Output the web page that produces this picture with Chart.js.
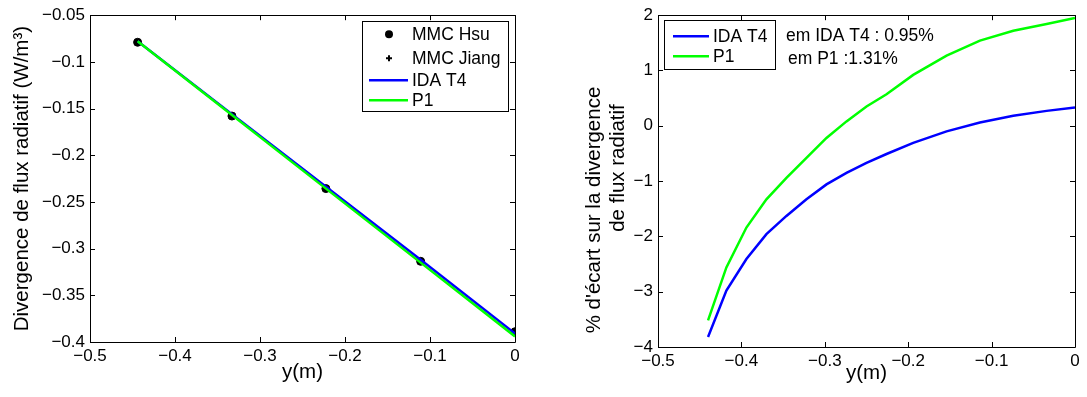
<!DOCTYPE html>
<html><head><meta charset="utf-8">
<script src="https://cdn.jsdelivr.net/npm/chart.js@4"></script>
<style>
html,body{margin:0;padding:0;background:#fff;}
#wrap{position:relative;width:1087px;height:397px;}
.c{position:absolute;top:0;height:397px;}
</style></head><body>
<div id="wrap">
<div class="c" style="left:0;width:543px"><canvas id="c1"></canvas></div>
<div class="c" style="left:543px;width:544px"><canvas id="c2"></canvas></div>
</div>
<script>
// ---- Left chart data ----
const mmcX      = [-0.444, -0.333, -0.2225, -0.111, 0];
const mmcHsuY   = [-0.079, -0.158, -0.2357, -0.3136, -0.389];
const mmcJiangY = [-0.079, -0.158, -0.2357, -0.3136, -0.389];
const lineX     = [-0.444, -0.333, -0.222, -0.111, 0];
const idaT4Y    = [-0.078, -0.156, -0.234, -0.312, -0.391];
const p1Y       = [-0.078, -0.157, -0.236, -0.315, -0.394];
// ---- Right chart data ----
const errX   = [-0.44, -0.418, -0.394, -0.37, -0.346, -0.322, -0.298, -0.274, -0.25, -0.226, -0.194, -0.154, -0.114, -0.074, -0.034, 0];
const errIDA = [-3.82, -2.98, -2.41, -1.96, -1.63, -1.33, -1.06, -0.85, -0.67, -0.51, -0.31, -0.10, 0.06, 0.18, 0.27, 0.33];
const errP1  = [-3.52, -2.56, -1.84, -1.33, -0.94, -0.58, -0.22, 0.08, 0.35, 0.57, 0.92, 1.27, 1.54, 1.72, 1.84, 1.95];
const annotations = ["em IDA T4 : 0.95%", "em P1 :1.31%"];
const rightYTitle = ["% d'\u00e9cart sur la divergence", "de flux radiatif"];

const FONT = "'Liberation Sans', Arial, Helvetica, sans-serif";
const pts = (xs, ys) => xs.map((x, i) => ({x, y: ys[i]}));
const fmt = (d) => (v) => { let s = Number(v.toFixed(d)).toString(); return s.replace('-', '\u2212'); };

const boxPlugin = {
  id: 'mbox',
  afterDatasetsDraw(chart) {
    const {ctx, chartArea: a, scales} = chart;
    ctx.save();
    ctx.strokeStyle = '#000'; ctx.lineWidth = 1;
    ctx.beginPath();
    ctx.rect(Math.round(a.left) + 0.5, Math.round(a.top) + 0.5, Math.round(a.right - a.left), Math.round(a.bottom - a.top));
    ctx.stroke();
    const L = 5;
    scales.x.ticks.forEach(t => {
      const px = Math.round(scales.x.getPixelForValue(t.value)) + 0.5;
      ctx.beginPath();
      ctx.moveTo(px, a.bottom); ctx.lineTo(px, a.bottom - L);
      ctx.moveTo(px, a.top); ctx.lineTo(px, a.top + L);
      ctx.stroke();
    });
    scales.y.ticks.forEach(t => {
      const py = Math.round(scales.y.getPixelForValue(t.value)) + 0.5;
      ctx.beginPath();
      ctx.moveTo(a.left, py); ctx.lineTo(a.left + L, py);
      ctx.moveTo(a.right, py); ctx.lineTo(a.right - L, py);
      ctx.stroke();
    });
    ctx.restore();
  },
  afterDraw(chart) {
    const o = chart.options.plugins.mlegend;
    if (!o) return;
    const {ctx, chartArea: a} = chart;
    ctx.save();
    const bx = o.fromRight ? a.right - o.dx - o.w : a.left + o.dx;
    const by = a.top + o.dy;
    ctx.fillStyle = '#fff';
    ctx.fillRect(bx, by, o.w, o.h);
    ctx.strokeStyle = '#000'; ctx.lineWidth = 1;
    ctx.strokeRect(Math.round(bx) + 0.5, Math.round(by) + 0.5, o.w, o.h);
    ctx.font = '17.5px ' + FONT;
    ctx.textBaseline = 'middle';
    ctx.fillStyle = '#000';
    chart.data.datasets.forEach((ds, i) => {
      const y = by + o.rows[i];
      if (ds.showLine) {
        ctx.strokeStyle = ds.borderColor; ctx.lineWidth = 2.5;
        ctx.beginPath(); ctx.moveTo(bx + o.l0, y); ctx.lineTo(bx + o.l1, y); ctx.stroke();
      } else if (ds.pointStyle === 'circle') {
        ctx.fillStyle = '#000';
        ctx.beginPath(); ctx.arc(bx + o.mx, y, 4, 0, Math.PI * 2); ctx.fill();
      } else {
        ctx.strokeStyle = '#000'; ctx.lineWidth = 2;
        ctx.beginPath();
        ctx.moveTo(bx + o.mx - 3, y); ctx.lineTo(bx + o.mx + 3, y);
        ctx.moveTo(bx + o.mx, y - 3); ctx.lineTo(bx + o.mx, y + 3);
        ctx.stroke();
      }
      ctx.fillStyle = '#000';
      ctx.fillText(ds.label, bx + o.tx, y + 1);
    });
    if (o.notes) {
      ctx.font = '17.5px ' + FONT;
      o.notes.forEach((n, i) => ctx.fillText(n, a.left + o.notesX[i], a.top + o.notesY[i]));
    }
    if (o.yTitle) {
      ctx.font = '20.5px ' + FONT;
      ctx.textAlign = 'center';
      o.yTitle.forEach((t, i) => {
        ctx.save();
        ctx.translate(o.yTitleX[i], o.yTitleY[i]);
        ctx.rotate(-Math.PI / 2);
        ctx.fillText(t, 0, 0);
        ctx.restore();
      });
    }
    ctx.restore();
  }
};

function axisCommon(title, min, max, step, dec, size, isY, titlePad) {
  return {
    type: 'linear', min, max,
    grid: {display: false, drawTicks: false},
    border: {display: false},
    ticks: {stepSize: step, callback: fmt(dec), color: '#000', font: {family: FONT, size: 17}, padding: isY ? 5 : 4, maxRotation: 0, autoSkip: false},
    title: {display: !!title, text: title || '', color: '#000', font: {family: FONT, size: 20.5}, padding: titlePad},
    afterFit(s) { if (isY) s.width = size; else s.height = size; }
  };
}

new Chart(document.getElementById('c1'), {
  type: 'scatter',
  data: {datasets: [
    {label: 'MMC Hsu', data: pts(mmcX, mmcHsuY), pointStyle: 'circle', pointRadius: 4, backgroundColor: '#000', borderColor: '#000', showLine: false, order: 3},
    {label: 'MMC Jiang', data: pts(mmcX, mmcJiangY), pointStyle: 'cross', pointRadius: 3, borderWidth: 2, backgroundColor: '#000', borderColor: '#000', showLine: false, order: 4},
    {label: 'IDA T4', data: pts(lineX, idaT4Y), showLine: true, borderColor: '#0000ff', borderWidth: 2.5, pointRadius: 0, order: 2},
    {label: 'P1', data: pts(lineX, p1Y), showLine: true, borderColor: '#00ff00', borderWidth: 2.5, pointRadius: 0, order: 1}
  ]},
  options: {
    responsive: true, maintainAspectRatio: false, animation: false,
    layout: {padding: {top: 14, right: 28, left: 0, bottom: 0}},
    scales: {
      x: axisCommon('y(m)', -0.5, 0, 0.1, 1, 55, false, {top: 0, bottom: 12}),
      y: axisCommon('Divergence de flux radiatif (W/m\u00b3)', -0.4, -0.05, 0.05, 2, 90, true, {top: 10, bottom: 0})
    },
    plugins: {
      legend: {display: false}, tooltip: {enabled: false},
      mlegend: {fromRight: true, dx: 7, dy: 6, w: 146, h: 90, rows: [13, 37, 59, 79], mx: 27, l0: 7, l1: 46, tx: 50}
    }
  },
  plugins: [boxPlugin]
});

new Chart(document.getElementById('c2'), {
  type: 'scatter',
  data: {datasets: [
    {label: 'IDA T4', data: pts(errX, errIDA), showLine: true, borderColor: '#0000ff', borderWidth: 2.5, pointRadius: 0, order: 2},
    {label: 'P1', data: pts(errX, errP1), showLine: true, borderColor: '#00ff00', borderWidth: 2.5, pointRadius: 0, order: 1}
  ]},
  options: {
    responsive: true, maintainAspectRatio: false, animation: false,
    layout: {padding: {top: 14, right: 12, left: 0, bottom: 0}},
    scales: {
      x: axisCommon('y(m)', -0.5, 0, 0.1, 1, 50, false, {top: 0, bottom: 11}),
      y: axisCommon(null, -4, 2, 1, 0, 115, true, {top: 0, bottom: 0})
    },
    plugins: {
      legend: {display: false}, tooltip: {enabled: false},
      mlegend: {fromRight: false, dx: 6, dy: 5, w: 111, h: 49, rows: [16, 36], mx: 20, l0: 9, l1: 45, tx: 49,
        notes: annotations, notesX: [128, 130], notesY: [21, 44],
        yTitle: rightYTitle, yTitleX: [51, 75], yTitleY: [210, 168]}
    }
  },
  plugins: [boxPlugin]
});
</script>
</body></html>
